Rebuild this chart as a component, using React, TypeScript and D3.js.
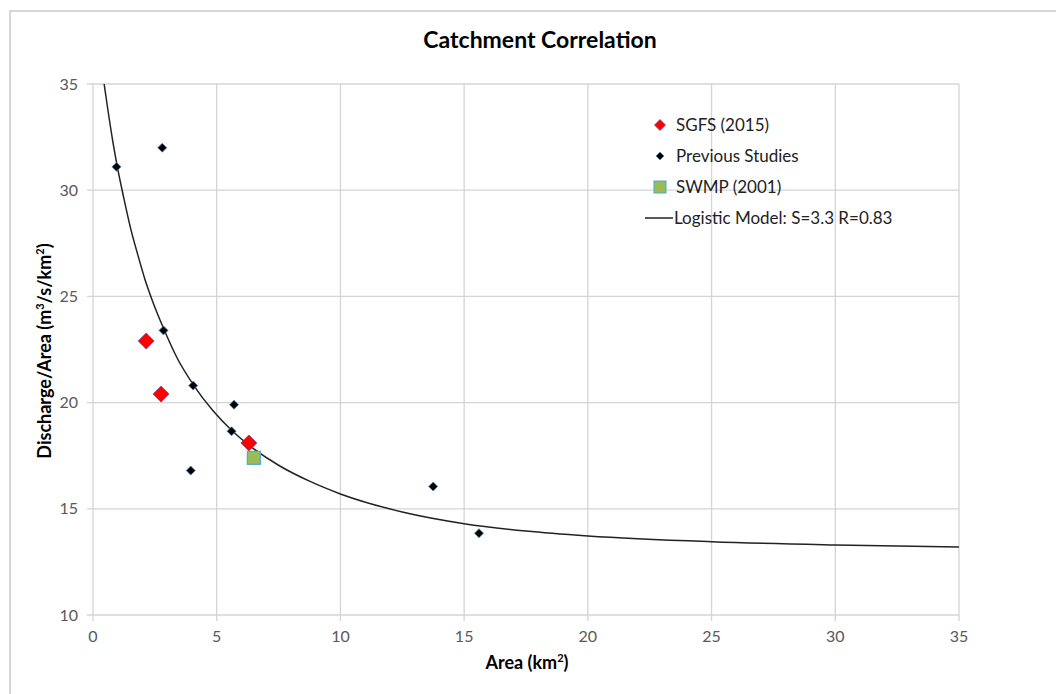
import React, { useEffect, useRef } from "react";
import * as d3 from "d3";

// Data
const sgfsArea = [2.15, 2.75, 6.3];
const sgfsRatio = [22.9, 20.4, 18.1];

const prevArea = [0.95, 2.8, 2.85, 4.05, 5.7, 5.6, 3.95, 13.75, 15.6];
const prevRatio = [31.1, 32.0, 23.4, 20.8, 19.9, 18.65, 16.8, 16.05, 13.85];

const swmpArea = [6.5];
const swmpRatio = [17.4];

// logistic model curve
const modelArea = [0.45, 0.6, 0.8, 1.0, 1.25, 1.5, 1.8, 2.1, 2.4, 2.85, 3.4, 4.05, 4.86, 5.6, 6.3, 7.5, 8.75, 10, 12.5, 15, 17.5, 20, 25, 30, 35];
const modelRatio = [35, 33.8, 32.3, 31.0, 29.6, 28.3, 27.0, 25.8, 24.8, 23.5, 22.1, 20.85, 19.6, 18.7, 18.0, 17.05, 16.3, 15.7, 14.85, 14.3, 13.95, 13.72, 13.45, 13.3, 13.2];

const xTicks = [0, 5, 10, 15, 20, 25, 30, 35];
const yTicks = [10, 15, 20, 25, 30, 35];

const legendLabels = ["SGFS (2015)", "Previous Studies", "SWMP (2001)", "Logistic Model: S=3.3 R=0.83"];

const W = 1056;
const H = 694;
const FONT = "Lato, 'Open Sans', sans-serif";

export default function App() {
  const ref = useRef<SVGSVGElement>(null);

  useEffect(() => {
    const svg = d3.select(ref.current);
    svg.selectAll("*").remove();

    const left = 93, right = 959, top = 84, bottom = 615;
    const x = d3.scaleLinear().domain([0, 35]).range([left, right]);
    const y = d3.scaleLinear().domain([10, 35]).range([bottom, top]);

    svg.append("rect").attr("width", W).attr("height", H).attr("fill", "#fff");
    // chart frame
    svg.append("rect")
      .attr("x", 10).attr("y", 11).attr("width", W + 20).attr("height", H + 20)
      .attr("fill", "none").attr("stroke", "#c9c9c9").attr("stroke-width", 1.5);

    svg.append("text")
      .attr("x", 540).attr("y", 48)
      .attr("text-anchor", "middle")
      .style("font-family", FONT).style("font-weight", "bold").style("font-size", "23px")
      .attr("fill", "#000")
      .text("Catchment Correlation");

    // grid
    const grid = svg.append("g").attr("stroke", "#d4d4d4").attr("stroke-width", 1.3);
    yTicks.forEach((t) => {
      grid.append("line").attr("x1", left - 6).attr("x2", right).attr("y1", y(t)).attr("y2", y(t));
    });
    xTicks.forEach((t) => {
      grid.append("line").attr("x1", x(t)).attr("x2", x(t)).attr("y1", top).attr("y2", bottom + 6);
    });

    const tickStyle = (s: any) =>
      s.style("font-family", FONT).style("font-size", "16px").attr("fill", "#595959");

    yTicks.forEach((t) => {
      svg.append("text").attr("x", left - 15).attr("y", y(t) + 5.5)
        .attr("text-anchor", "end").call(tickStyle).text(t);
    });
    xTicks.forEach((t) => {
      svg.append("text").attr("x", x(t)).attr("y", bottom + 27)
        .attr("text-anchor", "middle").call(tickStyle).text(t);
    });

    // axis titles
    const xt = svg.append("text").attr("x", 527).attr("y", 669).attr("text-anchor", "middle")
      .style("font-family", FONT).style("font-weight", "bold").style("font-size", "18px").attr("fill", "#000");
    xt.append("tspan").text("Area (km");
    xt.append("tspan").attr("dy", -7).style("font-size", "11px").text("2");
    xt.append("tspan").attr("dy", 7).text(")");

    const yt = svg.append("text").attr("transform", "translate(51,351) rotate(-90)").attr("text-anchor", "middle")
      .style("font-family", FONT).style("font-weight", "bold").style("font-size", "18px").attr("fill", "#000");
    yt.append("tspan").text("Discharge/Area (m");
    yt.append("tspan").attr("dy", -7).style("font-size", "11px").text("3");
    yt.append("tspan").attr("dy", 7).text("/s/km");
    yt.append("tspan").attr("dy", -7).style("font-size", "11px").text("2");
    yt.append("tspan").attr("dy", 7).text(")");

    // model line
    const line = d3.line<number>()
      .x((d, i) => x(modelArea[i]))
      .y((d) => y(d))
      .curve(d3.curveMonotoneX);
    svg.append("path").datum(modelRatio).attr("d", line)
      .attr("fill", "none").attr("stroke", "#222").attr("stroke-width", 1.5);

    const diamond = (r: number) => `M0,${-r}L${r},0L0,${r}L${-r},0Z`;

    svg.append("g").selectAll("path").data(prevArea).enter().append("path")
      .attr("transform", (d, i) => `translate(${x(d)},${y(prevRatio[i])})`)
      .attr("d", diamond(4.5))
      .attr("fill", "#000").attr("stroke", "#4f81bd").attr("stroke-width", 0.8);

    svg.append("g").selectAll("path").data(sgfsArea).enter().append("path")
      .attr("transform", (d, i) => `translate(${x(d)},${y(sgfsRatio[i])})`)
      .attr("d", diamond(8))
      .attr("fill", "#ff0000").attr("stroke", "#7f3f98").attr("stroke-width", 0.8);

    svg.append("g").selectAll("rect").data(swmpArea).enter().append("rect")
      .attr("x", (d) => x(d) - 6.5).attr("y", (d, i) => y(swmpRatio[i]) - 6.5)
      .attr("width", 13).attr("height", 13)
      .attr("fill", "#9bbb59").attr("stroke", "#4bacc6").attr("stroke-width", 1.2);

    // legend
    const lg = svg.append("g").attr("transform", "translate(660,0)");
    const rows = [125, 156, 187, 218];
    lg.append("path").attr("transform", `translate(0,${rows[0]})`).attr("d", diamond(5.5))
      .attr("fill", "#ff0000").attr("stroke", "#7f3f98").attr("stroke-width", 0.8);
    lg.append("path").attr("transform", `translate(0,${rows[1]})`).attr("d", diamond(4))
      .attr("fill", "#000").attr("stroke", "#4f81bd").attr("stroke-width", 0.8);
    lg.append("rect").attr("x", -6).attr("y", rows[2] - 6).attr("width", 12).attr("height", 12)
      .attr("fill", "#9bbb59").attr("stroke", "#4bacc6").attr("stroke-width", 1);
    lg.append("line").attr("x1", -15).attr("x2", 13).attr("y1", rows[3]).attr("y2", rows[3])
      .attr("stroke", "#222").attr("stroke-width", 1.5);
    legendLabels.forEach((t, i) => {
      lg.append("text").attr("x", i === 3 ? 14 : 16).attr("y", rows[i] + 6)
        .style("font-family", FONT).style("font-size", "17px").attr("fill", "#222").text(t);
    });
  }, []);

  return (
    <svg ref={ref} width={W} height={H} style={{ position: "absolute", left: 0, top: 0 }} />
  );
}
